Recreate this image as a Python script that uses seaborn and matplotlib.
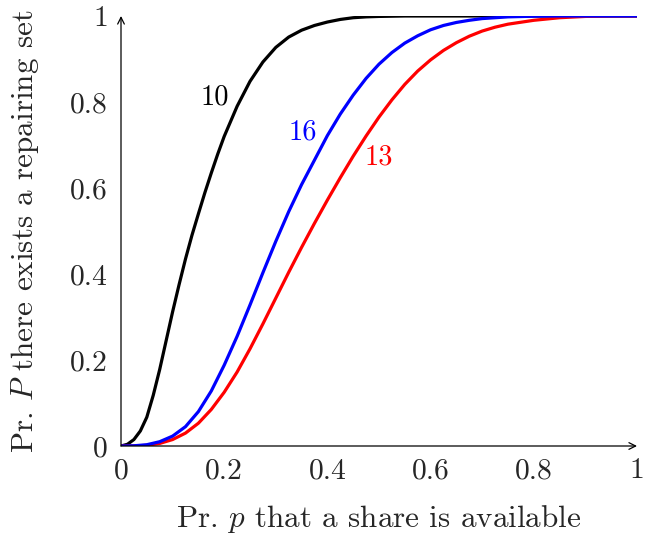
import matplotlib
matplotlib.use("Agg")
import matplotlib.pyplot as plt
import numpy as np
import pandas as pd
import seaborn as sns

# ---- data ----
p_10 = [0.0, 0.0125, 0.025, 0.0375, 0.05, 0.0625, 0.075, 0.0875, 0.1, 0.1125,
        0.125, 0.1375, 0.15, 0.1625, 0.175, 0.1875, 0.2, 0.225, 0.25, 0.275,
        0.3, 0.325, 0.35, 0.375, 0.4, 0.425, 0.45, 0.475, 0.5, 0.55, 0.6,
        0.7, 0.8, 0.9, 1.0]
P_10 = [0.0, 0.004, 0.015, 0.035, 0.067, 0.118, 0.178, 0.245, 0.312, 0.375,
        0.435, 0.490, 0.540, 0.589, 0.635, 0.679, 0.720, 0.790, 0.848, 0.893,
        0.927, 0.951, 0.967, 0.978, 0.986, 0.992, 0.996, 0.998, 0.999, 1.0, 1.0,
        1.0, 1.0, 1.0, 1.0]

p_grid = [0.0, 0.025, 0.05, 0.075, 0.1, 0.125, 0.15, 0.175, 0.2, 0.225, 0.25,
          0.275, 0.3, 0.325, 0.35, 0.375, 0.4, 0.425, 0.45, 0.475, 0.5,
          0.525, 0.55, 0.575, 0.6, 0.625, 0.65, 0.675, 0.7, 0.725, 0.75,
          0.8, 0.85, 0.9, 0.95, 1.0]

P_16 = [0.0, 0.0005, 0.003, 0.010, 0.023, 0.045, 0.080, 0.128, 0.188, 0.255, 0.328,
        0.403, 0.476, 0.545, 0.608, 0.665, 0.722, 0.772, 0.816, 0.855, 0.888,
        0.915, 0.937, 0.954, 0.968, 0.978, 0.985, 0.990, 0.994, 0.996, 0.998,
        0.9995, 1.0, 1.0, 1.0, 1.0]

P_13 = [0.0, 0.0002, 0.0015, 0.006, 0.015, 0.030, 0.053, 0.085, 0.125, 0.172, 0.226,
        0.284, 0.344, 0.404, 0.462, 0.518, 0.572, 0.624, 0.674, 0.721, 0.765,
        0.805, 0.841, 0.872, 0.898, 0.920, 0.938, 0.953, 0.965, 0.974, 0.981,
        0.990, 0.996, 0.999, 1.0, 1.0]

series_names = ["10", "13", "16"]
series_colors = {"10": "black", "13": "red", "16": "blue"}
label_pos = {"10": (0.182, 0.812), "16": (0.352, 0.730), "13": (0.500, 0.671)}

tick_vals = [0, 0.2, 0.4, 0.6, 0.8, 1]
tick_labels = ["0", "0.2", "0.4", "0.6", "0.8", "1"]

xlabel = r"Pr. $p$ that a share is available"
ylabel = r"Pr. $P$ there exists a repairing set"

df = pd.concat([
    pd.DataFrame({"p": p_10, "P": P_10, "n": "10"}),
    pd.DataFrame({"p": p_grid, "P": P_13, "n": "13"}),
    pd.DataFrame({"p": p_grid, "P": P_16, "n": "16"}),
], ignore_index=True)

# ---- style ----
sns.set_style("white")
plt.rcParams["font.family"] = ["cmr10", "DejaVu Serif"]
plt.rcParams["mathtext.fontset"] = "cm"
plt.rcParams["axes.formatter.use_mathtext"] = True

fig = plt.figure(figsize=(6.45, 5.39), dpi=100)
ax = fig.add_axes([121 / 645, 93 / 539, 516 / 645, 430 / 539])

sns.lineplot(data=df, x="p", y="P", hue="n", hue_order=series_names,
             palette=series_colors, estimator=None, sort=False,
             linewidth=2.3, legend=False, ax=ax)
for ln in ax.get_lines():
    ln.set_solid_joinstyle("round")
    ln.set_solid_capstyle("round")

for name in series_names:
    x, y = label_pos[name]
    ax.text(x, y, name, color=series_colors[name], fontsize=20.5,
            ha="center", va="center")

ax.set_xlim(0, 1)
ax.set_ylim(0, 1)
ax.set_xticks(tick_vals)
ax.set_xticklabels(tick_labels)
ax.set_yticks(tick_vals)
ax.set_yticklabels(tick_labels)
ax.tick_params(axis="both", direction="inout", length=8, width=0.8,
               color="gray", labelsize=21.3)
ax.tick_params(axis="x", pad=4.5)
ax.tick_params(axis="y", pad=5.5)

for s in ax.spines.values():
    s.set_visible(False)

arrow = dict(arrowstyle="->", lw=0.9, color="black", shrinkA=0, shrinkB=0,
             mutation_scale=12)
ax.annotate("", xy=(1.0, 0), xytext=(0, 0), xycoords="axes fraction",
            textcoords="axes fraction", arrowprops=arrow, annotation_clip=False)
ax.annotate("", xy=(0, 1.0), xytext=(0, 0), xycoords="axes fraction",
            textcoords="axes fraction", arrowprops=arrow, annotation_clip=False)

ax.set_xlabel(xlabel, fontsize=22.4)
ax.set_ylabel(ylabel, fontsize=22.4)
ax.xaxis.set_label_coords(0.5, -0.188)
ax.xaxis.label.set_va("baseline")
ax.yaxis.set_label_coords(-0.155, 0.5)
ax.grid(False)

fig.savefig("out.png", dpi=100)
